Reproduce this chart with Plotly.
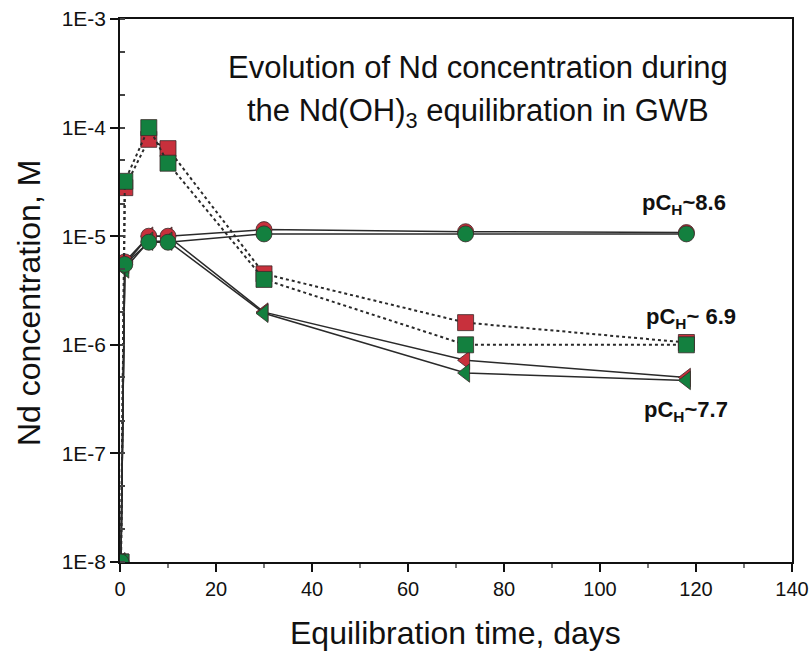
import plotly.graph_objects as go

days = [0.2, 1, 6, 10, 30, 72, 118]

sq_red = [1e-8, 2.8e-5, 7.8e-5, 6.4e-5, 4.5e-6, 1.6e-6, 1.05e-6]
sq_green = [1e-8, 3.2e-5, 1.0e-4, 4.7e-5, 4.0e-6, 1.0e-6, 1.0e-6]
tri_red = [1e-8, 5.5e-6, 1.0e-5, 1.0e-5, 2.0e-6, 7.2e-7, 5.0e-7]
tri_green = [1e-8, 5.0e-6, 9.0e-6, 9.0e-6, 1.95e-6, 5.5e-7, 4.7e-7]
circ_red = [1e-8, 5.8e-6, 1.0e-5, 1.0e-5, 1.15e-5, 1.1e-5, 1.08e-5]
circ_green = [1e-8, 5.5e-6, 8.8e-6, 8.8e-6, 1.05e-5, 1.05e-5, 1.05e-5]

ytickvals = [1e-8, 1e-7, 1e-6, 1e-5, 1e-4, 1e-3]
yticktext = ["1E-8", "1E-7", "1E-6", "1E-5", "1E-4", "1E-3"]
xtickvals = [0, 20, 40, 60, 80, 100, 120, 140]

RED = "#c8303c"
GREEN = "#13803f"
LINE = "#2a2a2a"
TXT = "#111111"

fig = go.Figure()

series = [
    (sq_red, "square", RED, "dot"),
    (tri_red, "triangle-left", RED, "solid"),
    (circ_red, "circle", RED, "solid"),
    (sq_green, "square", GREEN, "dot"),
    (tri_green, "triangle-left", GREEN, "solid"),
    (circ_green, "circle", GREEN, "solid"),
]
for vals, sym, col, dash in series:
    fig.add_trace(go.Scatter(
        x=days, y=vals, mode="lines+markers",
        line=dict(color=LINE, width=1.5 if dash == "solid" else 2, dash=dash),
        marker=dict(symbol=sym, size=16, color=col,
                    line=dict(color="#3a2a2a", width=0.8)),
        showlegend=False,
    ))

fig.update_layout(
    width=809, height=656,
    margin=dict(l=120, r=17, t=19, b=94),
    paper_bgcolor="white", plot_bgcolor="white",
    font=dict(family="Liberation Sans, Arial, sans-serif", color=TXT),
    xaxis=dict(
        range=[0, 140], tickvals=xtickvals, automargin=False,
        showline=True, linecolor=TXT, linewidth=1.5, mirror=True,
        ticks="outside", ticklen=8, tickwidth=1.5, tickcolor=TXT,
        minor=dict(dtick=10, ticks="outside", ticklen=4, tickcolor="#777"),
        showgrid=False, zeroline=False,
        tickfont=dict(size=20, color=TXT),
    ),
    yaxis=dict(
        type="log", range=[-8, -3], automargin=False,
        tickvals=ytickvals, ticktext=yticktext,
        showline=True, linecolor=TXT, linewidth=1.5, mirror=True,
        ticks="outside", ticklen=8, tickwidth=1.5, tickcolor=TXT,
        minor=dict(ticks="inside", ticklen=5, tickcolor="#444", showgrid=False),
        showgrid=False, zeroline=False,
        tickfont=dict(size=21, color=TXT),
    ),
    annotations=[
        dict(x=0.4993, y=-0.1308, xref="paper", yref="paper", xanchor="center", yanchor="middle",
             text="Equilibration time, days", showarrow=False, font=dict(size=32, color=TXT)),
        dict(x=-0.1354, y=0.477, xref="paper", yref="paper", xanchor="center", yanchor="middle",
             text="Nd concentration, M", textangle=-90, showarrow=False,
             font=dict(size=32, color=TXT)),
        dict(x=0.533, y=0.91, xref="paper", yref="paper", xanchor="center", yanchor="middle",
             text="Evolution of Nd concentration during",
             showarrow=False, font=dict(size=31, color=TXT)),
        dict(x=0.533, y=0.826, xref="paper", yref="paper", xanchor="center", yanchor="middle",
             text="the Nd(OH)<sub>3</sub> equilibration in GWB",
             showarrow=False, font=dict(size=31, color=TXT)),
        dict(x=117.6, y=-4.70, xref="x", yref="y", text="<b>pC<sub>H</sub>~8.6</b>",
             showarrow=False, font=dict(size=22, color=TXT)),
        dict(x=118.9, y=-5.75, xref="x", yref="y", text="<b>pC<sub>H</sub>~ 6.9</b>",
             showarrow=False, font=dict(size=22, color=TXT)),
        dict(x=118.0, y=-6.61, xref="x", yref="y", text="<b>pC<sub>H</sub>~7.7</b>",
             showarrow=False, font=dict(size=22, color=TXT)),
    ],
)

fig.write_html("out.html", config={"displayModeBar": False},
               post_script="document.body.style.margin='0';")
